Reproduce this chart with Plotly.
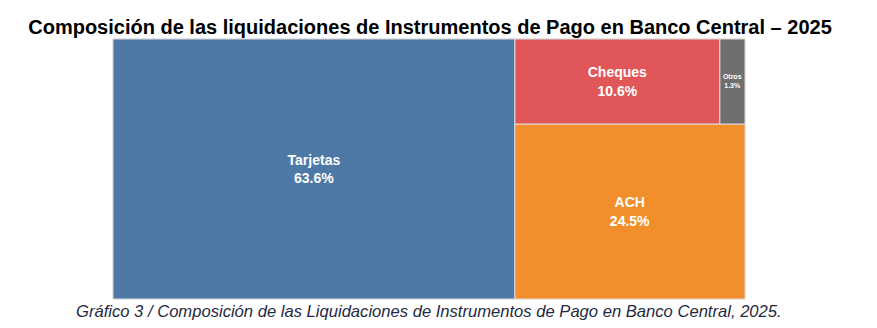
import plotly.graph_objects as go

labels = ["Tarjetas", "ACH", "Cheques", "Otros"]
values = [63.6, 24.5, 10.6, 1.3]
colors = ["#4e79a7", "#f28e2b", "#e15759", "#6f6f6f"]
font_sizes = [14, 14, 14, 8]

root = "Total"
all_labels = [root] + labels
all_parents = [""] + [root] * len(labels)
all_values = [sum(values)] + values
all_colors = ["white"] + colors
all_sizes = [1] + font_sizes
templates = [""] + ["<b>%{label}</b><br><b>%{value:.1f}%</b>"] * len(labels)

fig = go.Figure(go.Treemap(
    ids=all_labels,
    labels=all_labels,
    parents=all_parents,
    values=all_values,
    branchvalues="total",
    marker=dict(colors=all_colors, line=dict(color="#dddddd", width=1),
                pad=dict(t=0, l=0, r=0, b=0)),
    texttemplate=templates,
    textposition="middle center",
    textfont=dict(family="Liberation Sans, Arial, sans-serif", color="white", size=all_sizes),
    tiling=dict(packing="squarify", pad=0, flip="y"),
    sort=True,
    pathbar=dict(visible=False),
    hoverinfo="label+value",
))

fig.update_layout(
    width=877, height=328,
    margin=dict(l=113, r=132, t=39, b=29),
    paper_bgcolor="white",
    title=dict(
        text="<b>Composición de las liquidaciones de Instrumentos de Pago en Banco Central – 2025</b>",
        x=430 / 877, xanchor="center", y=1 - 27 / 328, yanchor="middle",
        font=dict(family="Liberation Sans, Arial, sans-serif", size=20, color="black"),
    ),
    annotations=[dict(
        text="<i>Gráfico 3 / Composición de las Liquidaciones de Instrumentos de Pago en Banco Central, 2025.</i>",
        xref="paper", yref="paper", x=0.5, xanchor="center",
        y=-12 / 260, yanchor="middle", showarrow=False,
        font=dict(family="Liberation Sans, Arial, sans-serif", size=16.6, color="#1f2a44"),
    )],
)

fig.write_html("out.html")
